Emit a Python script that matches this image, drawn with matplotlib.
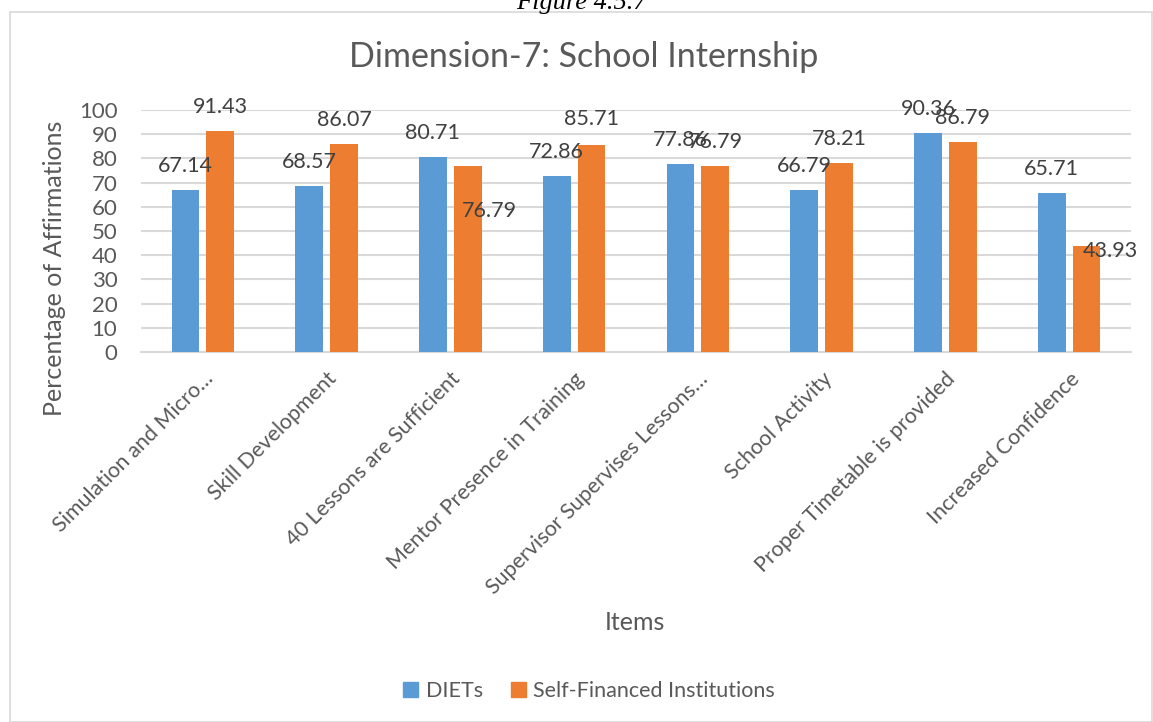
import matplotlib
matplotlib.use("Agg")
import matplotlib.pyplot as plt
import numpy as np
from matplotlib.patches import Rectangle, Patch

categories = ["Simulation and Micro\u2026", "Skill Development", "40 Lessons are Sufficient",
              "Mentor Presence in Training", "Supervisor Supervises Lessons\u2026",
              "School Activity", "Proper Timetable is provided", "Increased Confidence"]
diets = [67.14, 68.57, 80.71, 72.86, 77.86, 66.79, 90.36, 65.71]
sfi = [91.43, 86.07, 76.79, 85.71, 76.79, 78.21, 86.79, 43.93]
series_names = ["DIETs", "Self-Financed Institutions"]
yticks = [0, 10, 20, 30, 40, 50, 60, 70, 80, 90, 100]

# label offsets in pixels (dx, dy) relative to bar top
diets_off = [(0, 24)] * 8
sfi_off = [(0, 24), (0, 24), (22, -45), (0, 26), (0, 24), (0, 24), (0, 24), (24, -5)]

BLUE = "#5B9BD5"
ORANGE = "#ED7D31"
TXT = "#595959"
FONT = "Lato"

fig = plt.figure(figsize=(11.53, 7.22), dpi=100)
fig.patches.append(Rectangle((10/1153, 0), 1 - 10/1153 - 0.0005, 1 - 12/722, transform=fig.transFigure,
                             fill=False, edgecolor="#D9D9D9", linewidth=1.2, zorder=0))
fig.text(581/1153, 1 - 9/722, "Figure 4.5.7", ha="center", va="baseline", fontsize=19,
         family="Liberation Serif", style="italic", color="#000000")

ax = fig.add_axes([141/1153, 1 - 352/722, (1131 - 141)/1153, (352 - 110)/722])
x = np.arange(len(categories))
w = 0.225
off = 0.141
b1 = ax.bar(x - off, diets, w, color=BLUE, zorder=3)
b2 = ax.bar(x + off, sfi, w, color=ORANGE, zorder=3)

for bars, vals, offs in ((b1, diets, diets_off), (b2, sfi, sfi_off)):
    for rect, v, (dx, dy) in zip(bars, vals, offs):
        ax.annotate(f"{v:.2f}", (rect.get_x() + rect.get_width()/2, v),
                    xytext=(dx*0.72, dy*0.72), textcoords="offset points",
                    ha="center", va="center", fontsize=15.5, family=FONT, color="#404040",
                    zorder=4, annotation_clip=False)

ax.set_xlim(-0.5, len(categories) - 0.5)
ax.set_ylim(0, 100)
ax.set_yticks(yticks)
ax.grid(axis="y", color="#D9D9D9", linewidth=1.5, zorder=0)
ax.set_axisbelow(True)
for s in ["top", "right", "left"]:
    ax.spines[s].set_visible(False)
ax.spines["bottom"].set_color("#D9D9D9")
ax.spines["bottom"].set_linewidth(1.5)
ax.tick_params(axis="both", length=0, colors=TXT)
ax.tick_params(axis="y", pad=17, labelsize=16)
ax.set_xticks(x)
ax.set_xticklabels(categories, rotation=45, ha="right", rotation_mode="anchor",
                   fontsize=15.5, family=FONT, color=TXT)
for lab in ax.get_yticklabels():
    lab.set_family(FONT)
ax.tick_params(axis="x", pad=12)

ax.set_ylabel("Percentage of Affirmations", fontsize=18, family=FONT, color=TXT)
ax.yaxis.set_label_coords((66 - 141)/990, (352 - 268)/242)
fig.text(635/1153, 1 - 622/722, "Items", ha="center", va="center", fontsize=18, family=FONT, color=TXT)
fig.text(584/1153, 1 - 57/722, "Dimension-7: School Internship", ha="center", va="center",
         fontsize=24.5, family=FONT, color=TXT)

handles = [Patch(color=BLUE), Patch(color=ORANGE)]
leg = fig.legend(handles, series_names, loc="center", bbox_to_anchor=(589/1153, 1 - 691/722),
                 ncol=2, frameon=False, handlelength=0.7, handleheight=0.7,
                 handletextpad=0.35, columnspacing=1.3, prop={"family": FONT, "size": 15.5})
for t in leg.get_texts():
    t.set_color(TXT)

fig.savefig("out.png", dpi=100)
